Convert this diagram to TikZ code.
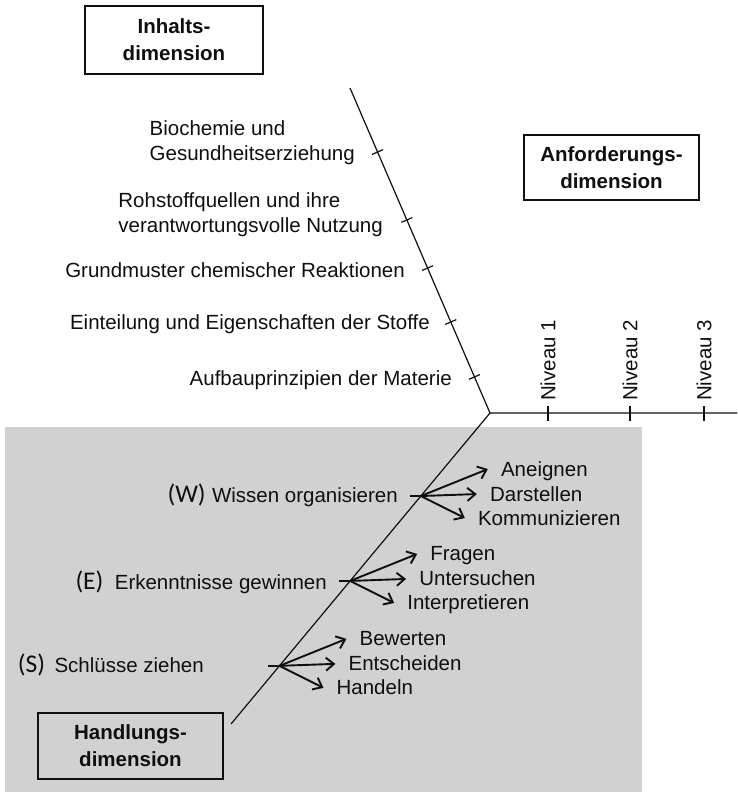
\documentclass[tikz,border=0pt]{standalone}
\usepackage{fontspec}
\setmainfont{Liberation Sans}
\newfontfamily\carlito{Carlito}
\usetikzlibrary{calc,positioning,arrows.meta}
\definecolor{bggray}{RGB}{209,209,209}
\definecolor{ink}{RGB}{15,15,15}

\begin{document}
\begin{tikzpicture}[x=1pt,y=-1pt]
  \tikzset{dimbox/.style = {draw=ink,line width=1.3pt,align=center,text=ink,inner sep=0pt,font=\fontsize{20.5}{27}\selectfont\bfseries}}
  \tikzset{txt/.style = {text=ink,inner sep=0pt,font=\fontsize{20.5}{25.5}\selectfont}}
  \tikzset{paren/.style = {text=ink,inner sep=0pt,font=\carlito\fontsize{25.5}{30}\selectfont}}
  \tikzset{axis/.style = {draw=ink,line width=1.2pt}}
  \tikzset{branch/.style = {->,draw=ink,line width=1.9pt}}
  \tikzset{>={Straight Barb[length=8pt,width=13pt]}}

  \useasboundingbox (0,0) rectangle (737,792);
  \fill[bggray] (5,427) rectangle (642,792);

  % axes
  \coordinate (o) at (490,413);
  \coordinate (itop) at (350,88);
  \coordinate (hend) at (231,724);
  \coordinate (aend) at (737,413);
  \draw[axis] (itop) -- (o) -- (aend);
  \draw[axis] (o) -- (hend);

  % dimension boxes
  \node[dimbox,minimum width=178,minimum height=68] (inhalt) at (174,40) {Inhalts-\\dimension};
  \node[dimbox,minimum width=175,minimum height=65] (anford) at (611.5,167.5) {Anforderungs-\\dimension};
  \node[dimbox,fill=bggray,minimum width=185,minimum height=66] (handl) at (130.5,746) {Handlungs-\\dimension};

  % Inhaltsdimension
  \foreach \t [count=\i] in {0.197,0.406,0.554,0.72,0.889}{
    \coordinate (k\i) at ($(itop)!\t!(o)$);
    \draw[axis] ($(k\i)!6pt!90:(o)$) -- ($(k\i)!6pt!-90:(o)$);
  }
  \node[txt,align=left,anchor=north east] (bio) at (355,120) {Biochemie und\\Gesundheitserziehung};
  \node[txt,align=left,anchor=north east] (rohst) at (383,192) {Rohstoffquellen und ihre\\verantwortungsvolle Nutzung};
  \node[txt,anchor=base east] (grund) at (405,277) {Grundmuster chemischer Reaktionen};
  \node[txt,anchor=base east] (eint) at (430,329) {Einteilung und Eigenschaften der Stoffe};
  \node[txt,anchor=base east] (aufb) at (452,385) {Aufbauprinzipien der Materie};

  % Anforderungsdimension
  \foreach \x/\n in {548/1,630/2,704/3}{
    \draw[axis] (\x,406) -- (\x,421);
    \node[txt,rotate=90,anchor=west] (niv\n) at (\x,401) {Niveau \n};
  }

  % Handlungsdimension
  \foreach \br/\t in {W/0.267,E/0.54,S/0.813}
    \coordinate (b\br) at ($(o)!\t!(hend)$);

  \node[txt,anchor=base east] (wiss) at (398,502) {Wissen organisieren};
  \node[paren,anchor=base east] (pW) at ([xshift=-6pt]wiss.base west) {(W)};
  \node[txt,anchor=base east] (erk) at (327,589) {Erkenntnisse gewinnen};
  \node[paren,anchor=base east] (pE) at ([xshift=-11pt]erk.base west) {(E)};
  \node[txt,anchor=base east] (schl) at (204,672) {Schlüsse ziehen};
  \node[paren,anchor=base east] (pS) at ([xshift=-9pt]schl.base west) {(S)};

  \foreach \br/\first/\second/\third in {W/Aneignen/Darstellen/Kommunizieren,E/Fragen/Untersuchen/Interpretieren,S/Bewerten/Entscheiden/Handeln}{
    \node[txt,anchor=base west] (\br one) at ($(b\br)+(80,-20)$) {\first};
    \node[txt,anchor=base west] (\br two) at ($(b\br)+(69,5)$) {\second};
    \node[txt,anchor=base west] (\br three) at ($(b\br)+(57,29)$) {\third};
    \draw[draw=ink,line width=1.9pt] ([xshift=-11pt]b\br) -- (b\br);
    \foreach \l in {one,two,three}
      \draw[branch] (b\br) -- ([shift={(-13,-7)}]\br\l.base west);
  }
\end{tikzpicture}
\end{document}
